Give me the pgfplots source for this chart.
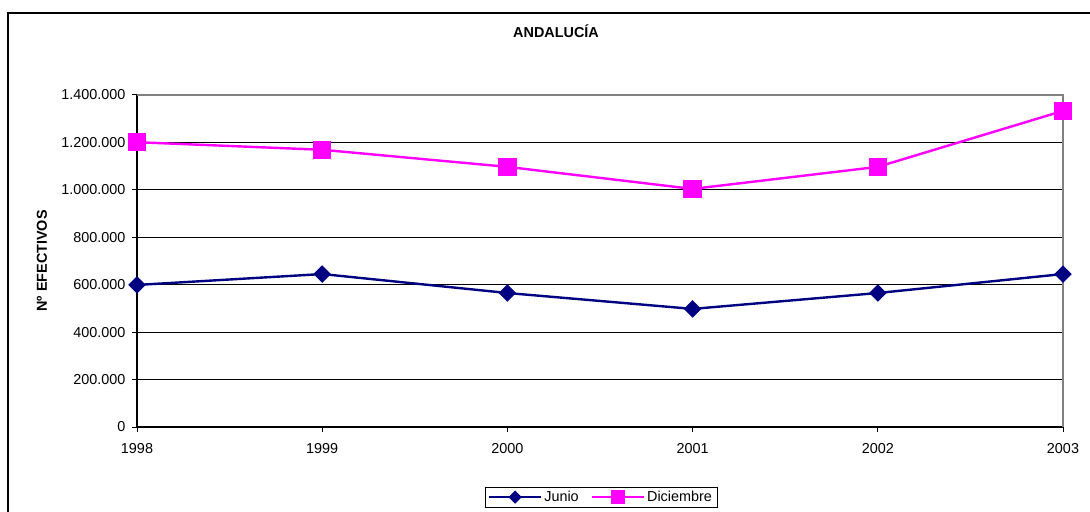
\documentclass[border=0pt]{standalone}
\usepackage{pgfplots}
\pgfplotsset{compat=1.18}
\usepackage{fontspec}
\setmainfont{Liberation Sans}
\definecolor{junio}{HTML}{000080}
\definecolor{dic}{HTML}{FF00FF}
\definecolor{framegray}{HTML}{808080}
\newcommand{\fs}{\fontsize{14.4bp}{17bp}\selectfont}
\begin{document}
\begin{tikzpicture}
\path[use as bounding box] (0,0) rectangle (1090bp,512bp);
\draw[line width=1.2bp] (8bp,0) -- (8bp,499bp) -- (1091bp,499bp);
\begin{axis}[
  at={(137bp,85bp)}, anchor=south west,
  scale only axis, width=926bp, height=332bp,
  xmin=1998, xmax=2003, ymin=0, ymax=1400000,
  xtick={1998,1999,2000,2001,2002,2003},
  ytick={0,200000,400000,600000,800000,1000000,1200000,1400000},
  scaled y ticks=false,
  xticklabel style={yshift=-8bp, /pgf/number format/1000 sep={}, /pgf/number format/assume math mode=true},
  yticklabel style={xshift=-3bp, /pgf/number format/fixed, /pgf/number format/1000 sep={.}, /pgf/number format/assume math mode=true},
  tick label style={font=\fs},
  axis x line*=bottom, axis y line*=left,
  axis line style={black, line width=1.2bp, -},
  tick style={black, line width=1bp},
  tick align=outside, major tick length=5bp,
  ymajorgrids, major grid style={black, line width=0.9bp},
  title={\textbf{ANDALUCÍA}},
  title style={font=\fs, at={(axis description cs:0.4525,1)}, anchor=center, yshift=58bp},
  ylabel={\textbf{Nº EFECTIVOS}},
  ylabel style={font=\fs, at={(axis description cs:-0.1026,0.5)}, anchor=center, rotate=0},
  legend style={font=\fs, at={(axis description cs:0.501,-0.211)}, anchor=center,
    legend columns=2, draw=black, line width=0.8bp, inner xsep=3bp, inner ysep=2bp,
    /tikz/every odd column/.append style={column sep=0bp},
    /tikz/every even column/.append style={column sep=10bp},
    nodes={inner xsep=2bp}},
  legend image code/.code={%
    \draw[mark repeat=2,mark phase=2, every mark/.append style={scale=0.7}] plot coordinates {(0bp,0bp) (26bp,0bp) (52bp,0bp)};},
  clip=false,
]
\draw[framegray, line width=1.8bp] (rel axis cs:0,1) -- (rel axis cs:1,1) -- (rel axis cs:1,0);
\addplot[junio, line width=2.4bp, mark=square*, mark size=5bp, mark options={rotate=45, solid}]
  coordinates {(1998,599000) (1999,645000) (2000,565000) (2001,498000) (2002,565000) (2003,645000)};
\addlegendentry{Junio}
\addplot[dic, line width=2.4bp, mark=square*, mark size=8bp, mark options={solid}]
  coordinates {(1998,1201000) (1999,1169000) (2000,1097000) (2001,1004000) (2002,1097000) (2003,1333000)};
\addlegendentry{Diciembre}
\end{axis}
\end{tikzpicture}
\end{document}
